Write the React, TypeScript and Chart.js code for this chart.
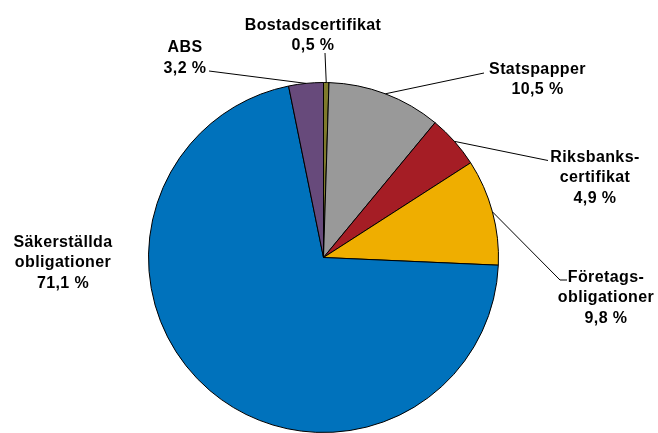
import React, { useEffect, useRef } from "react";
import { Chart, registerables } from "chart.js";

Chart.register(...registerables);

const categories = [
  "Bostadscertifikat",
  "Statspapper",
  "Riksbankscertifikat",
  "Företagsobligationer",
  "Säkerställda obligationer",
  "ABS",
];
const shares = [0.5, 10.5, 4.9, 9.8, 71.1, 3.2];
const labelLines = [
  ["Bostadscertifikat"],
  ["Statspapper"],
  ["Riksbanks-", "certifikat"],
  ["Företags-", "obligationer"],
  ["Säkerställda", "obligationer"],
  ["ABS"],
];
const colors = ["#7F7A2C", "#999999", "#A51D25", "#EFAE00", "#0072BC", "#674A7B"];

// label placement (pixels): text centre x, first baseline, leader path points (label side first)
const labelLayout: { cx: number; base: number; path: number[][] }[] = [
  { cx: 313, base: 29.5, path: [[325, 53]] },
  { cx: 537.5, base: 73.5, path: [[484, 73]] },
  { cx: 595, base: 161.5, path: [[548, 160.5]] },
  { cx: 606, base: 281.5, path: [[567, 280], [560, 280]] },
  { cx: 63, base: 246.5, path: [] },
  { cx: 185, base: 52, path: [[209, 71]] },
];

const fmt = (v: number) => v.toFixed(1).replace(".", ",") + " %";

const labelPlugin = {
  id: "pieLabels",
  afterDraw(chart: any) {
    const ctx = chart.ctx as CanvasRenderingContext2D;
    const meta = chart.getDatasetMeta(0);
    ctx.save();
    // leader lines
    ctx.strokeStyle = "#000";
    ctx.lineWidth = 1;
    meta.data.forEach((arc: any, i: number) => {
      const lay = labelLayout[i];
      if (!lay.path.length) return;
      const mid = (arc.startAngle + arc.endAngle) / 2;
      const ax = arc.x + Math.cos(mid) * arc.outerRadius;
      const ay = arc.y + Math.sin(mid) * arc.outerRadius;
      ctx.beginPath();
      ctx.moveTo(lay.path[0][0], lay.path[0][1]);
      for (let k = 1; k < lay.path.length; k++) ctx.lineTo(lay.path[k][0], lay.path[k][1]);
      ctx.lineTo(ax, ay);
      ctx.stroke();
    });
    // texts
    ctx.fillStyle = "#000";
    ctx.font = "bold 16px 'Liberation Sans', Arial, sans-serif";
    (ctx as any).letterSpacing = "0.4px";
    ctx.textAlign = "center";
    ctx.textBaseline = "alphabetic";
    shares.forEach((v, i) => {
      const lay = labelLayout[i];
      const lines = [...labelLines[i], fmt(v)];
      lines.forEach((t, k) => {
        ctx.fillText(t, lay.cx, lay.base + k * 20.5);
      });
    });
    ctx.restore();
  },
};

export default function App() {
  const ref = useRef<HTMLCanvasElement>(null);
  useEffect(() => {
    if (!ref.current) return;
    const chart = new Chart(ref.current, {
      type: "pie",
      data: {
        labels: categories,
        datasets: [
          {
            data: shares,
            backgroundColor: colors,
            borderColor: "#000",
            borderWidth: 1,
          },
        ],
      },
      options: {
        responsive: false,
        animation: false,
        devicePixelRatio: 1,
        layout: { padding: { left: 148, right: 159, top: 82, bottom: 0 } },
        plugins: { legend: { display: false }, tooltip: { enabled: false } },
      },
      plugins: [labelPlugin],
    });
    return () => chart.destroy();
  }, []);
  return (
    <div style={{ position: "fixed", left: 0, top: 0, width: 658, height: 433, background: "#fff" }}>
      <canvas ref={ref} width={658} height={433} style={{ width: 658, height: 433 }} />
    </div>
  );
}
